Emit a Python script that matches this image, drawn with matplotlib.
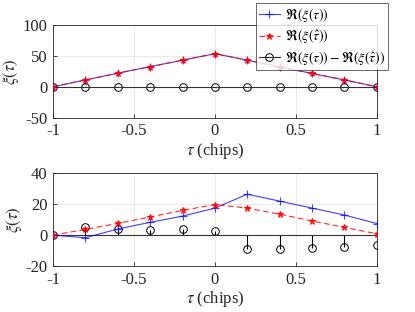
import matplotlib
matplotlib.use("Agg")
import matplotlib.pyplot as plt
from matplotlib.lines import Line2D
import numpy as np

plt.rcParams['font.family'] = ['Liberation Serif', 'DejaVu Serif']
plt.rcParams['mathtext.fontset'] = 'stix'

tau = [-1, -0.8, -0.6, -0.4, -0.2, 0, 0.2, 0.4, 0.6, 0.8, 1]

top_true = [0, 11, 22, 32.5, 43, 53.5, 43, 32, 21.5, 11, 0]
top_est = [0, 11, 22, 32.5, 43, 53.5, 43, 32, 21.5, 11, 0]
top_diff = [0, 0, 0, 0, 0, 0, 0, 0, 0, 0, 0]

bot_true = [0, -1.7, 4, 8.3, 12.3, 17.5, 26.5, 22, 17.5, 13, 7.5]
bot_est = [0, 3.7, 7.6, 11.8, 16, 19.8, 17.5, 13.5, 9.2, 5, 0.9]
bot_diff = [0, 5.5, 4, 3.5, 3.7, 2.6, -9, -9, -8.3, -7.4, -6.1]

xticks = [-1, -0.5, 0, 0.5, 1]
xticklabels = ['-1', '-0.5', '0', '0.5', '1']

fig = plt.figure(figsize=(4.15, 3.12), dpi=100)
ax1 = fig.add_axes([0.128, 0.623, 0.78, 0.297])
ax2 = fig.add_axes([0.128, 0.1474, 0.78, 0.297])

def draw(ax, t, e, d, ylim, yticks, yticklabels):
    l1, = ax.plot(tau, t, color='blue', lw=0.8, marker='+', ms=6, mew=0.8, alpha=0.75, zorder=3)
    l2, = ax.plot(tau, e, color='red', lw=0.8, ls=(0, (5, 3)), marker='*', ms=5, mew=0.8, alpha=0.85, zorder=4)
    ml, sl, bl = ax.stem(tau, d, linefmt='k-', markerfmt='ko', basefmt='k-')
    ml.set_markerfacecolor('none')
    ml.set_markersize(5.5)
    ml.set_markeredgewidth(0.7)
    sl.set_linewidth(0.8)
    bl.set_linewidth(0.8)
    bl.set_color('#333333')
    ax.set_xlim(-1, 1)
    ax.set_ylim(*ylim)
    ax.set_xticks(xticks)
    ax.set_xticklabels(xticklabels)
    ax.set_yticks(yticks)
    ax.set_yticklabels(yticklabels)
    ax.grid(True, color='#e6e6e6', lw=0.6)
    ax.set_axisbelow(True)
    ax.tick_params(direction='in', labelsize=12, length=3, colors='#262626', width=0.6, pad=4)
    for s in ax.spines.values():
        s.set_color('#262626')
        s.set_linewidth(0.6)
    ax.set_xlabel(r'$\tau$ (chips)', fontsize=12, color='#262626', labelpad=1)
    ax.set_ylabel(r'$\xi(\tau)$', fontsize=12, color='#262626', labelpad=1)
    return l1, l2

l1, l2 = draw(ax1, top_true, top_est, top_diff, (-50, 100), [-50, 0, 50, 100], ['-50', '0', '50', '100'])
draw(ax2, bot_true, bot_est, bot_diff, (-20, 40), [-20, 0, 20, 40], ['-20', '0', '20', '40'])

h3 = Line2D([], [], color='#333333', lw=0.8, marker='o', ms=5.5, mfc='none', mec='black', mew=0.7)
labels = [r'$\Re(\xi(\tau))$', r'$\Re(\xi(\hat{\tau}))$', r'$\Re(\xi(\tau)) - \Re(\xi(\hat{\tau}))$']
leg = fig.legend([l1, l2, h3], labels, loc='upper right', bbox_to_anchor=(0.935, 0.99),
                 fontsize=10, frameon=True, fancybox=False, edgecolor='#262626',
                 handlelength=1.5, handletextpad=0.4, borderpad=0.2, labelspacing=0.25,
                 borderaxespad=0, numpoints=1)
leg.get_frame().set_linewidth(0.6)

fig.savefig('out.png', dpi=100)
